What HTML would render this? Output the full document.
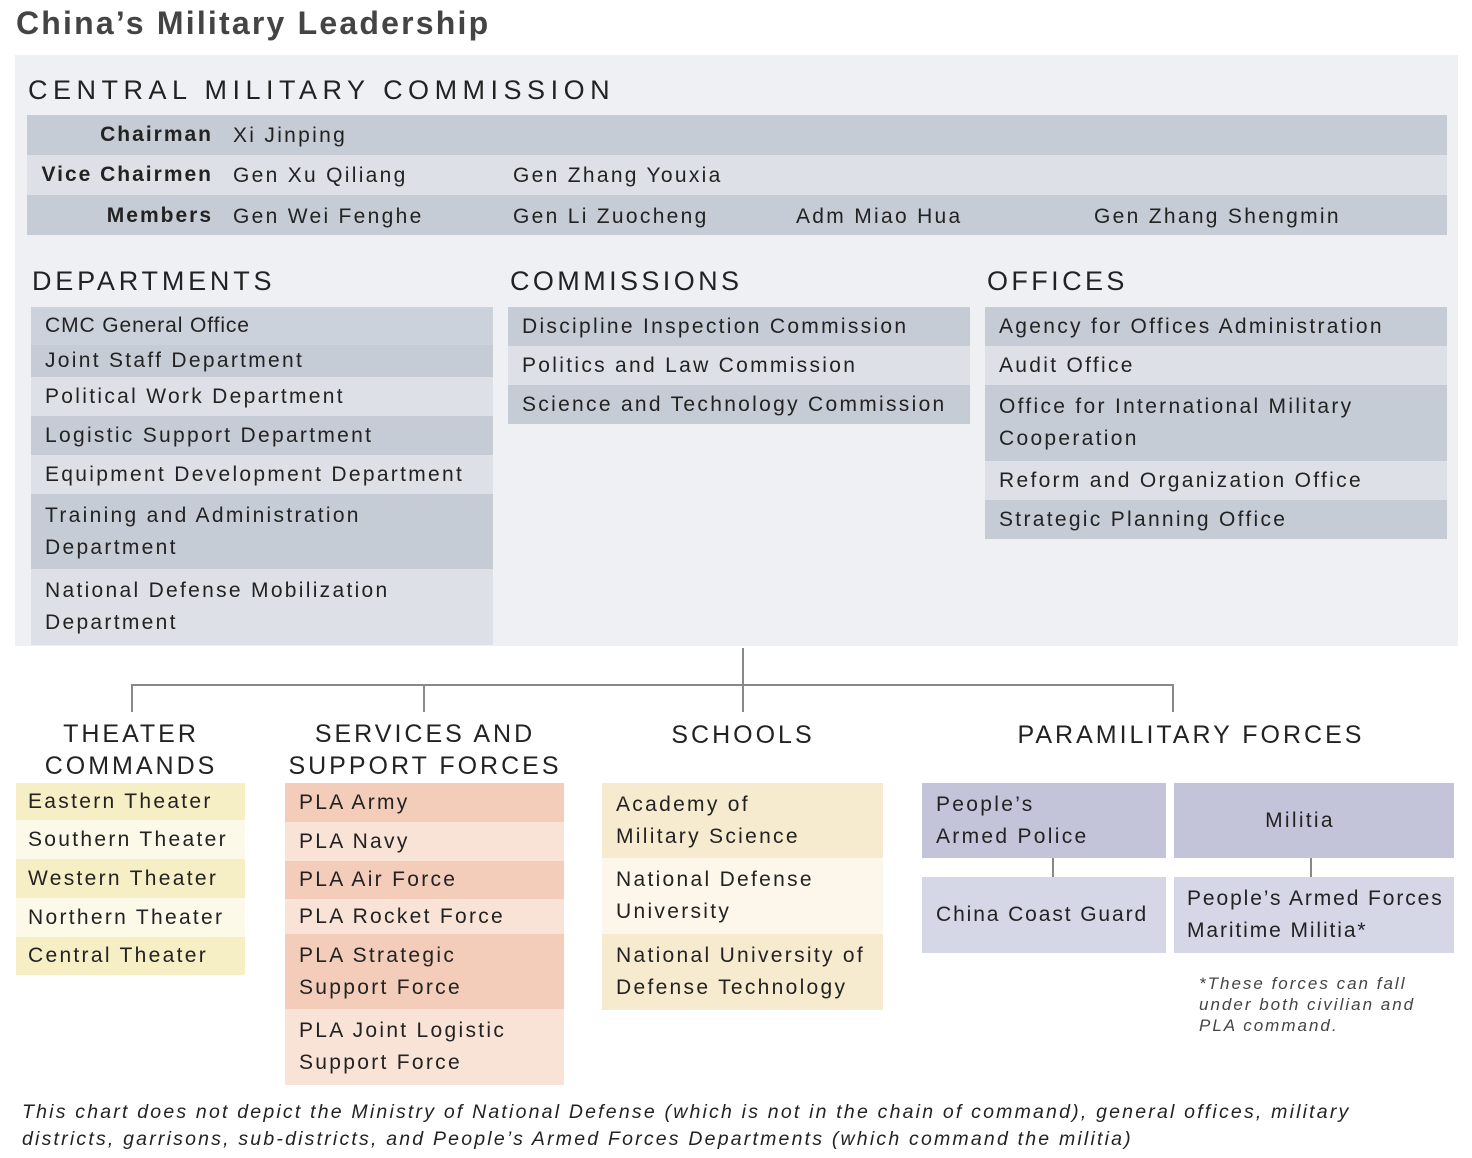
<!DOCTYPE html>
<html><head><meta charset="utf-8">
<style>
*{margin:0;padding:0;box-sizing:border-box}
body{width:1472px;height:1158px;background:#fff;position:relative;overflow:hidden;font-family:"Liberation Sans",sans-serif;color:#222}
.a{position:absolute}
.b{position:absolute;display:flex;align-items:center;padding-left:14px;font-size:21px;letter-spacing:2.3px;line-height:32px;color:#222;white-space:nowrap}
.h{position:absolute;font-size:27px;letter-spacing:3.4px;color:#222;white-space:nowrap}
.hc{position:absolute;font-size:25px;letter-spacing:3px;color:#222;text-align:center;line-height:32px;white-space:nowrap}
.d1{background:#c5ccd6}.d2{background:#dde1e7}
.y1{background:#f6efc6}.y2{background:#fcf9e9}
.p1{background:#f3cdb9}.p2{background:#f9e3d6}
.s1{background:#f6ebcf}.s2{background:#fdf6ea}
.v1{background:#c3c4da}.v2{background:#d5d6e6}
.ln{position:absolute;background:#888}
.t{position:absolute;font-size:21px;letter-spacing:2.3px;white-space:nowrap}
</style></head><body>
<div class="a" style="left:16px;top:5px;font-size:32px;font-weight:bold;color:#444;letter-spacing:2.2px">China’s Military Leadership</div>
<div class="a" style="left:15px;top:55px;width:1443px;height:591px;background:#eff0f3"></div>
<div class="h" style="left:28px;top:75px;letter-spacing:5.5px">CENTRAL MILITARY COMMISSION</div>

<div class="a d1" style="left:27px;top:115px;width:1420px;height:40px"></div>
<div class="a d2" style="left:27px;top:155px;width:1420px;height:40px"></div>
<div class="a d1" style="left:27px;top:195px;width:1420px;height:40px"></div>
<div class="t" style="right:1259px;top:123px;font-weight:bold;letter-spacing:2px">Chairman</div>
<div class="t" style="right:1259px;top:163px;font-weight:bold;letter-spacing:2px">Vice Chairmen</div>
<div class="t" style="right:1259px;top:204px;font-weight:bold;letter-spacing:2px">Members</div>
<div class="t" style="left:233px;top:124px">Xi Jinping</div>
<div class="t" style="left:233px;top:164px">Gen Xu Qiliang</div>
<div class="t" style="left:513px;top:164px">Gen Zhang Youxia</div>
<div class="t" style="left:233px;top:205px">Gen Wei Fenghe</div>
<div class="t" style="left:513px;top:205px">Gen Li Zuocheng</div>
<div class="t" style="left:796px;top:205px">Adm Miao Hua</div>
<div class="t" style="left:1094px;top:205px">Gen Zhang Shengmin</div>

<div class="h" style="left:32px;top:266px;letter-spacing:3.8px">DEPARTMENTS</div>
<div class="h" style="left:510px;top:266px">COMMISSIONS</div>
<div class="h" style="left:987px;top:266px">OFFICES</div>

<div class="b d1" style="left:31px;top:307px;width:462px;height:38px;background:#ccd2db;letter-spacing:0.9px">CMC General Office</div>
<div class="b d1" style="left:31px;top:345px;width:462px;height:32px">Joint Staff Department</div>
<div class="b d2" style="left:31px;top:377px;width:462px;height:39px">Political Work Department</div>
<div class="b d1" style="left:31px;top:416px;width:462px;height:39px">Logistic Support Department</div>
<div class="b d2" style="left:31px;top:455px;width:462px;height:39px">Equipment Development Department</div>
<div class="b d1" style="left:31px;top:494px;width:462px;height:75px">Training and Administration<br>Department</div>
<div class="b d2" style="left:31px;top:569px;width:462px;height:76px">National Defense Mobilization<br>Department</div>

<div class="b d1" style="left:508px;top:307px;width:462px;height:39px">Discipline Inspection Commission</div>
<div class="b d2" style="left:508px;top:346px;width:462px;height:39px">Politics and Law Commission</div>
<div class="b d1" style="left:508px;top:385px;width:462px;height:39px">Science and Technology Commission</div>

<div class="b d1" style="left:985px;top:307px;width:462px;height:39px">Agency for Offices Administration</div>
<div class="b d2" style="left:985px;top:346px;width:462px;height:39px">Audit Office</div>
<div class="b d1" style="left:985px;top:385px;width:462px;height:76px">Office for International Military<br>Cooperation</div>
<div class="b d2" style="left:985px;top:461px;width:462px;height:39px">Reform and Organization Office</div>
<div class="b d1" style="left:985px;top:500px;width:462px;height:39px">Strategic Planning Office</div>

<div class="ln" style="left:742px;top:648px;width:2px;height:64px"></div>
<div class="ln" style="left:131px;top:684px;width:1043px;height:2px"></div>
<div class="ln" style="left:131px;top:684px;width:2px;height:28px"></div>
<div class="ln" style="left:423px;top:684px;width:2px;height:28px"></div>
<div class="ln" style="left:1172px;top:684px;width:2px;height:28px"></div>

<div class="hc" style="left:16px;top:718px;width:230px">THEATER<br>COMMANDS</div>
<div class="hc" style="left:270px;top:718px;width:310px">SERVICES AND<br>SUPPORT FORCES</div>
<div class="hc" style="left:602px;top:719px;width:282px">SCHOOLS</div>
<div class="hc" style="left:960px;top:719px;width:462px">PARAMILITARY FORCES</div>

<div class="b y1" style="left:16px;top:783px;width:229px;height:37px;padding-left:12px">Eastern Theater</div>
<div class="b y2" style="left:16px;top:820px;width:229px;height:39px;padding-left:12px">Southern Theater</div>
<div class="b y1" style="left:16px;top:859px;width:229px;height:39px;padding-left:12px">Western Theater</div>
<div class="b y2" style="left:16px;top:898px;width:229px;height:39px;padding-left:12px">Northern Theater</div>
<div class="b y1" style="left:16px;top:937px;width:229px;height:38px;padding-left:12px">Central Theater</div>

<div class="b p1" style="left:285px;top:783px;width:279px;height:39px">PLA Army</div>
<div class="b p2" style="left:285px;top:822px;width:279px;height:39px">PLA Navy</div>
<div class="b p1" style="left:285px;top:861px;width:279px;height:38px">PLA Air Force</div>
<div class="b p2" style="left:285px;top:899px;width:279px;height:35px">PLA Rocket Force</div>
<div class="b p1" style="left:285px;top:934px;width:279px;height:75px">PLA Strategic<br>Support Force</div>
<div class="b p2" style="left:285px;top:1009px;width:279px;height:76px">PLA Joint Logistic<br>Support Force</div>

<div class="b s1" style="left:602px;top:783px;width:281px;height:75px">Academy of<br>Military Science</div>
<div class="b s2" style="left:602px;top:858px;width:281px;height:76px">National Defense<br>University</div>
<div class="b s1" style="left:602px;top:934px;width:281px;height:76px">National University of<br>Defense Technology</div>

<div class="b v1" style="left:922px;top:783px;width:244px;height:75px">People’s<br>Armed Police</div>
<div class="b v1" style="left:1174px;top:783px;width:252px;height:75px;justify-content:center;padding-left:0">Militia</div>
<div class="a v1" style="left:1420px;top:783px;width:34px;height:75px"></div>
<div class="ln" style="left:1052px;top:858px;width:2px;height:19px"></div>
<div class="ln" style="left:1310px;top:858px;width:2px;height:19px"></div>
<div class="b v2" style="left:922px;top:877px;width:244px;height:76px;letter-spacing:1.9px">China Coast Guard</div>
<div class="b v2" style="left:1174px;top:877px;width:280px;height:76px;padding-left:13px;letter-spacing:1.9px">People’s Armed Forces<br>Maritime Militia*</div>

<div class="a" style="left:1199px;top:973px;font-size:17px;font-style:italic;letter-spacing:2px;line-height:21px;color:#444;white-space:nowrap">*These forces can fall<br>under both civilian and<br>PLA command.</div>
<div class="a" style="left:22px;top:1099px;font-size:19.5px;font-style:italic;line-height:27px;color:#222;letter-spacing:2.2px;white-space:nowrap">This chart does not depict the Ministry of National Defense (which is not in the chain of command), general offices, military<br>districts, garrisons, sub-districts, and People’s Armed Forces Departments (which command the militia)</div>
</body></html>
